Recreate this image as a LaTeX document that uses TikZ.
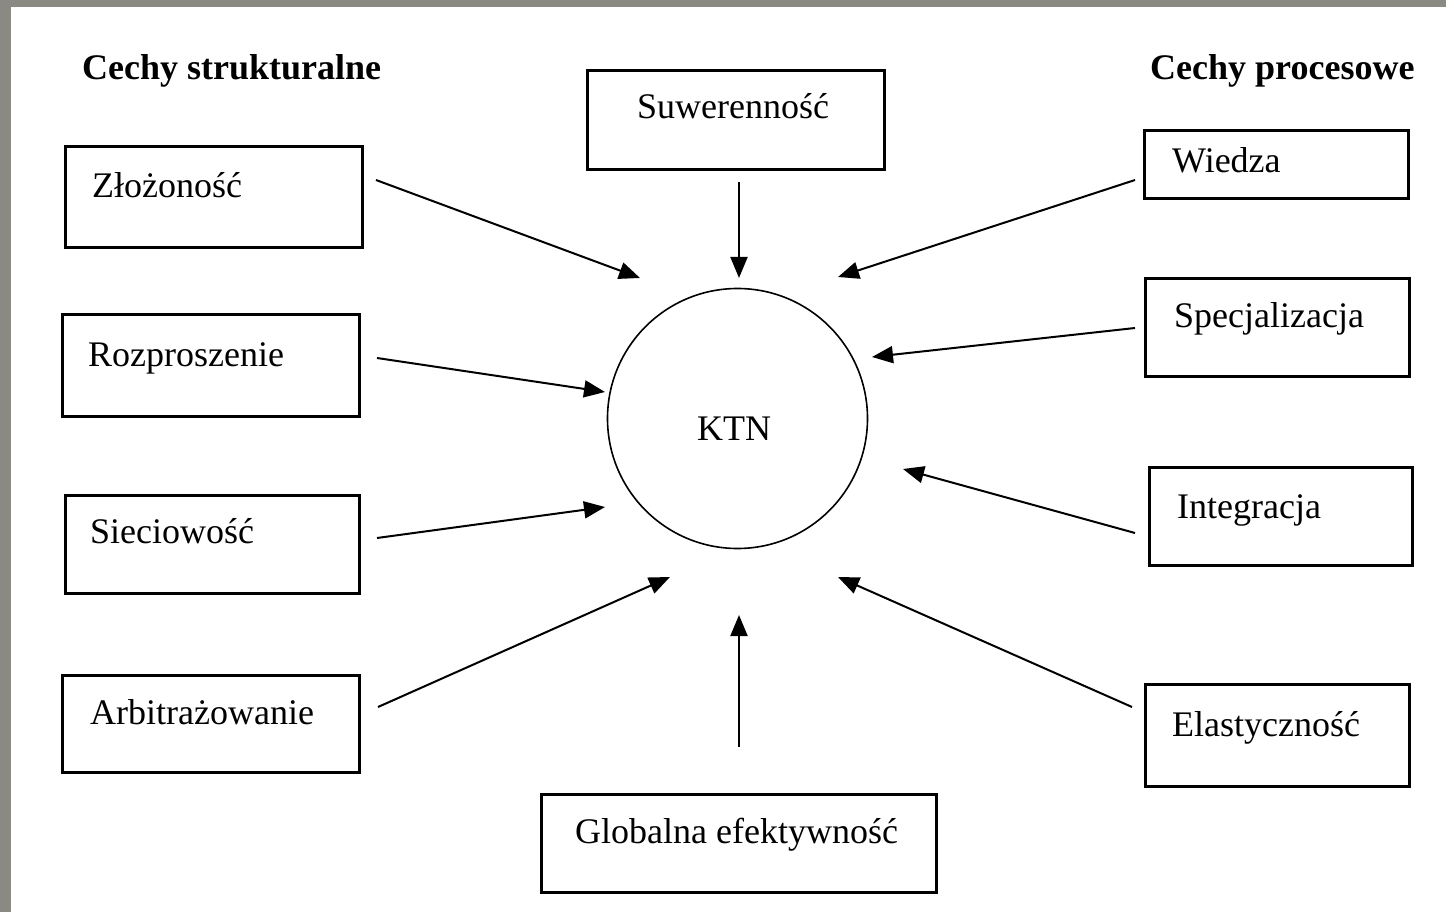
\documentclass[tikz,border=0pt]{standalone}
\usepackage{fontspec}
\setmainfont{Liberation Serif}
\usetikzlibrary{arrows.meta}
\definecolor{ramka}{RGB}{138,138,130}
\tikzset{>={Triangle[length=21pt,width=17pt]}}
\tikzset{
  box/.style={draw, line width=3pt, rectangle, anchor=north west, inner sep=0pt},
  txt/.style={anchor=base west, inner sep=0pt, font=\fontsize{36}{43}\selectfont},
  naglowek/.style={txt, font=\fontsize{36}{43}\selectfont\bfseries},
  arr/.style={->, line width=2pt}
}

\begin{document}
\begin{tikzpicture}[x=1pt, y=-1pt]
    \fill[ramka] (0,0) rectangle (1446,912);
    \fill[white] (11,7) rectangle (1446,912);
    \useasboundingbox (0,0) rectangle (1446,912);

    % naglowki
    \node[naglowek] (cs) at (82,80) {Cechy strukturalne};
    \node[naglowek] (cp) at (1150,80) {Cechy procesowe};

    % srodek
    \node[draw, circle, line width=1.6pt, minimum size=260, inner sep=0pt] (ktn) at (737.5,418.5) {};
    \node[txt] (ktn-t) at (697,440) {KTN};

    % cechy strukturalne
    \node[box, minimum width=297, minimum height=101] (zl) at (64,145) {};
    \node[txt] (zl-t) at (92,198) {Złożoność};
    \node[box, minimum width=297, minimum height=102] (ro) at (61,313) {};
    \node[txt] (ro-t) at (88,366) {Rozproszenie};
    \node[box, minimum width=294, minimum height=98] (si) at (64,494) {};
    \node[txt] (si-t) at (90,543) {Sieciowość};
    \node[box, minimum width=297, minimum height=97] (ar) at (61,674) {};
    \node[txt] (ar-t) at (90,724) {Arbitrażowanie};

    % gora i dol
    \node[box, minimum width=297, minimum height=99] (su) at (586,69) {};
    \node[txt] (su-t) at (637,119) {Suwerenność};
    \node[box, minimum width=395, minimum height=98] (gl) at (540,793) {};
    \node[txt] (gl-t) at (575,843) {Globalna efektywność};

    % cechy procesowe
    \node[box, minimum width=264, minimum height=68] (wi) at (1143,129) {};
    \node[txt] (wi-t) at (1172,173) {Wiedza};
    \node[box, minimum width=264, minimum height=98] (sp) at (1144,277) {};
    \node[txt] (sp-t) at (1174,327) {Specjalizacja};
    \node[box, minimum width=263, minimum height=98] (in) at (1148,466) {};
    \node[txt] (in-t) at (1177,518) {Integracja};
    \node[box, minimum width=264, minimum height=102] (el) at (1144,683) {};
    \node[txt] (el-t) at (1172,736) {Elastyczność};

    % konce strzalek
    \coordinate (zl-a) at (376,180);  \coordinate (zl-b) at (640,278);
    \coordinate (ro-a) at (377,358);  \coordinate (ro-b) at (605,392);
    \coordinate (si-a) at (377,538);  \coordinate (si-b) at (605,507);
    \coordinate (ar-a) at (378,707);  \coordinate (ar-b) at (670,577);
    \coordinate (su-a) at (739,182);  \coordinate (su-b) at (739,278);
    \coordinate (gl-a) at (739,747);  \coordinate (gl-b) at (739,615);
    \coordinate (wi-a) at (1135,180); \coordinate (wi-b) at (838,277);
    \coordinate (sp-a) at (1135,328); \coordinate (sp-b) at (872,357);
    \coordinate (in-a) at (1135,533); \coordinate (in-b) at (903,469);
    \coordinate (el-a) at (1132,707); \coordinate (el-b) at (838,577);

    \draw[arr] (zl-a) -- (zl-b);
    \draw[arr] (ro-a) -- (ro-b);
    \draw[arr] (si-a) -- (si-b);
    \draw[arr] (ar-a) -- (ar-b);
    \draw[arr] (su-a) -- (su-b);
    \draw[arr] (gl-a) -- (gl-b);
    \draw[arr] (wi-a) -- (wi-b);
    \draw[arr] (sp-a) -- (sp-b);
    \draw[arr] (in-a) -- (in-b);
    \draw[arr] (el-a) -- (el-b);
\end{tikzpicture}
\end{document}
